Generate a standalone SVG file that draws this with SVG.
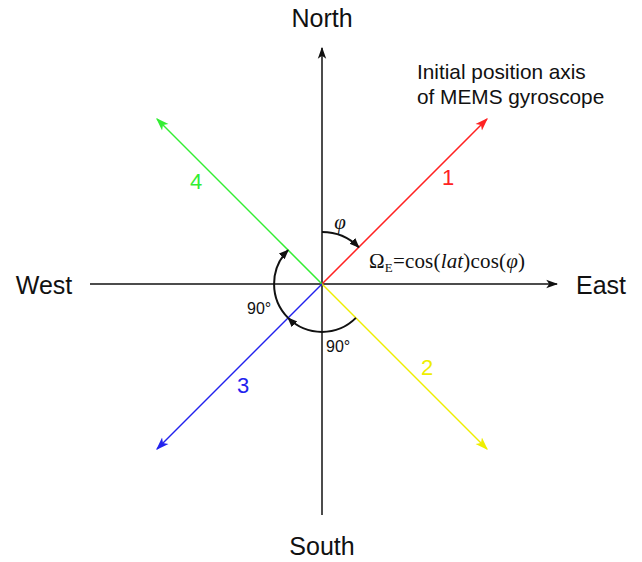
<svg xmlns="http://www.w3.org/2000/svg" width="642" height="562" viewBox="0 0 642 562">
<style>
.lbl{font-family:"Liberation Sans",Arial,sans-serif;fill:#111}
.big{font-size:25px}
.num{font-size:22px;text-anchor:middle}
.deg{font-size:16px}
.math{font-family:"Liberation Serif","DejaVu Serif",serif;font-size:21px;fill:#111}
.ax{stroke:#111;stroke-width:1.5;fill:none}
.arc{stroke:#111;stroke-width:2;fill:none}
</style>
<defs>
<marker id="mk" viewBox="0 0 10 10" refX="9" refY="5" markerWidth="10" markerHeight="10" markerUnits="userSpaceOnUse" orient="auto"><path d="M0,1 L10,5 L0,9 Z" fill="#111"/></marker>
<marker id="mr" viewBox="0 0 10 10" refX="9" refY="5" markerWidth="13" markerHeight="13" markerUnits="userSpaceOnUse" orient="auto"><path d="M0,1.5 L10,5 L0,8.5 L2.5,5 Z" fill="#f22"/></marker>
<marker id="mg" viewBox="0 0 10 10" refX="9" refY="5" markerWidth="13" markerHeight="13" markerUnits="userSpaceOnUse" orient="auto"><path d="M0,1.5 L10,5 L0,8.5 L2.5,5 Z" fill="#3e3"/></marker>
<marker id="my" viewBox="0 0 10 10" refX="9" refY="5" markerWidth="13" markerHeight="13" markerUnits="userSpaceOnUse" orient="auto"><path d="M0,1.5 L10,5 L0,8.5 L2.5,5 Z" fill="#ee0"/></marker>
<marker id="mb" viewBox="0 0 10 10" refX="9" refY="5" markerWidth="13" markerHeight="13" markerUnits="userSpaceOnUse" orient="auto"><path d="M0,1.5 L10,5 L0,8.5 L2.5,5 Z" fill="#22e"/></marker>
<marker id="ma" viewBox="0 0 10 10" refX="9" refY="5" markerWidth="12" markerHeight="12" markerUnits="userSpaceOnUse" orient="auto"><path d="M0,1.5 L10,5 L0,8.5 L2.5,5 Z" fill="#111"/></marker>
</defs>
<g id="connectors">
<line class="ax" x1="322" y1="515" x2="322" y2="48" marker-end="url(#ma)"/>
<line class="ax" x1="90" y1="284" x2="557" y2="284" marker-end="url(#ma)"/>
<line x1="322" y1="284" x2="487" y2="119" stroke="#f22" stroke-width="1.5" marker-end="url(#mr)"/>
<line x1="322" y1="284" x2="157" y2="119" stroke="#3e3" stroke-width="1.5" marker-end="url(#mg)"/>
<line x1="322" y1="284" x2="487" y2="449" stroke="#ee0" stroke-width="1.5" marker-end="url(#my)"/>
<line x1="322" y1="284" x2="157" y2="449" stroke="#22e" stroke-width="1.5" marker-end="url(#mb)"/>
<path class="arc" d="M322,232 A52,52 0 0 1 358.8,247.2" marker-end="url(#mk)"/>
<path class="arc" d="M355.9,317.9 A48,48 0 0 1 288.1,317.9" marker-end="url(#mk)"/>
<path class="arc" d="M288.1,317.9 A48,48 0 0 1 288.1,250.1" marker-end="url(#mk)"/>
</g>
<g id="north"><text class="lbl big" x="322" y="27" text-anchor="middle">North</text></g>
<g id="south"><text class="lbl big" x="322" y="555" text-anchor="middle">South</text></g>
<g id="west"><text class="lbl big" x="44" y="294" text-anchor="middle">West</text></g>
<g id="east"><text class="lbl big" x="601" y="294" text-anchor="middle">East</text></g>
<g id="axis-label">
<text class="lbl" font-size="20.8" x="417" y="79">Initial position axis</text>
<text class="lbl" font-size="20.8" x="417" y="104">of MEMS gyroscope</text>
</g>
<g id="numbers">
<text class="lbl num" x="448" y="185" style="fill:#f22">1</text>
<text class="lbl num" x="427" y="375" style="fill:#ee0">2</text>
<text class="lbl num" x="243" y="393" style="fill:#22e">3</text>
<text class="lbl num" x="196" y="189" style="fill:#3e3">4</text>
</g>
<g id="angles">
<text class="math" x="340" y="229" text-anchor="middle" font-style="italic" font-size="23">φ</text>
<text class="lbl deg" x="247" y="314">90°</text>
<text class="lbl deg" x="326" y="352">90°</text>
</g>
<g id="formula">
<text class="math" x="369" y="268" textLength="156">Ω<tspan font-size="13" dy="4">E</tspan><tspan dy="-4">=cos(</tspan><tspan font-style="italic">lat</tspan>)cos(<tspan font-style="italic">φ</tspan>)</text>
</g>
</svg>
